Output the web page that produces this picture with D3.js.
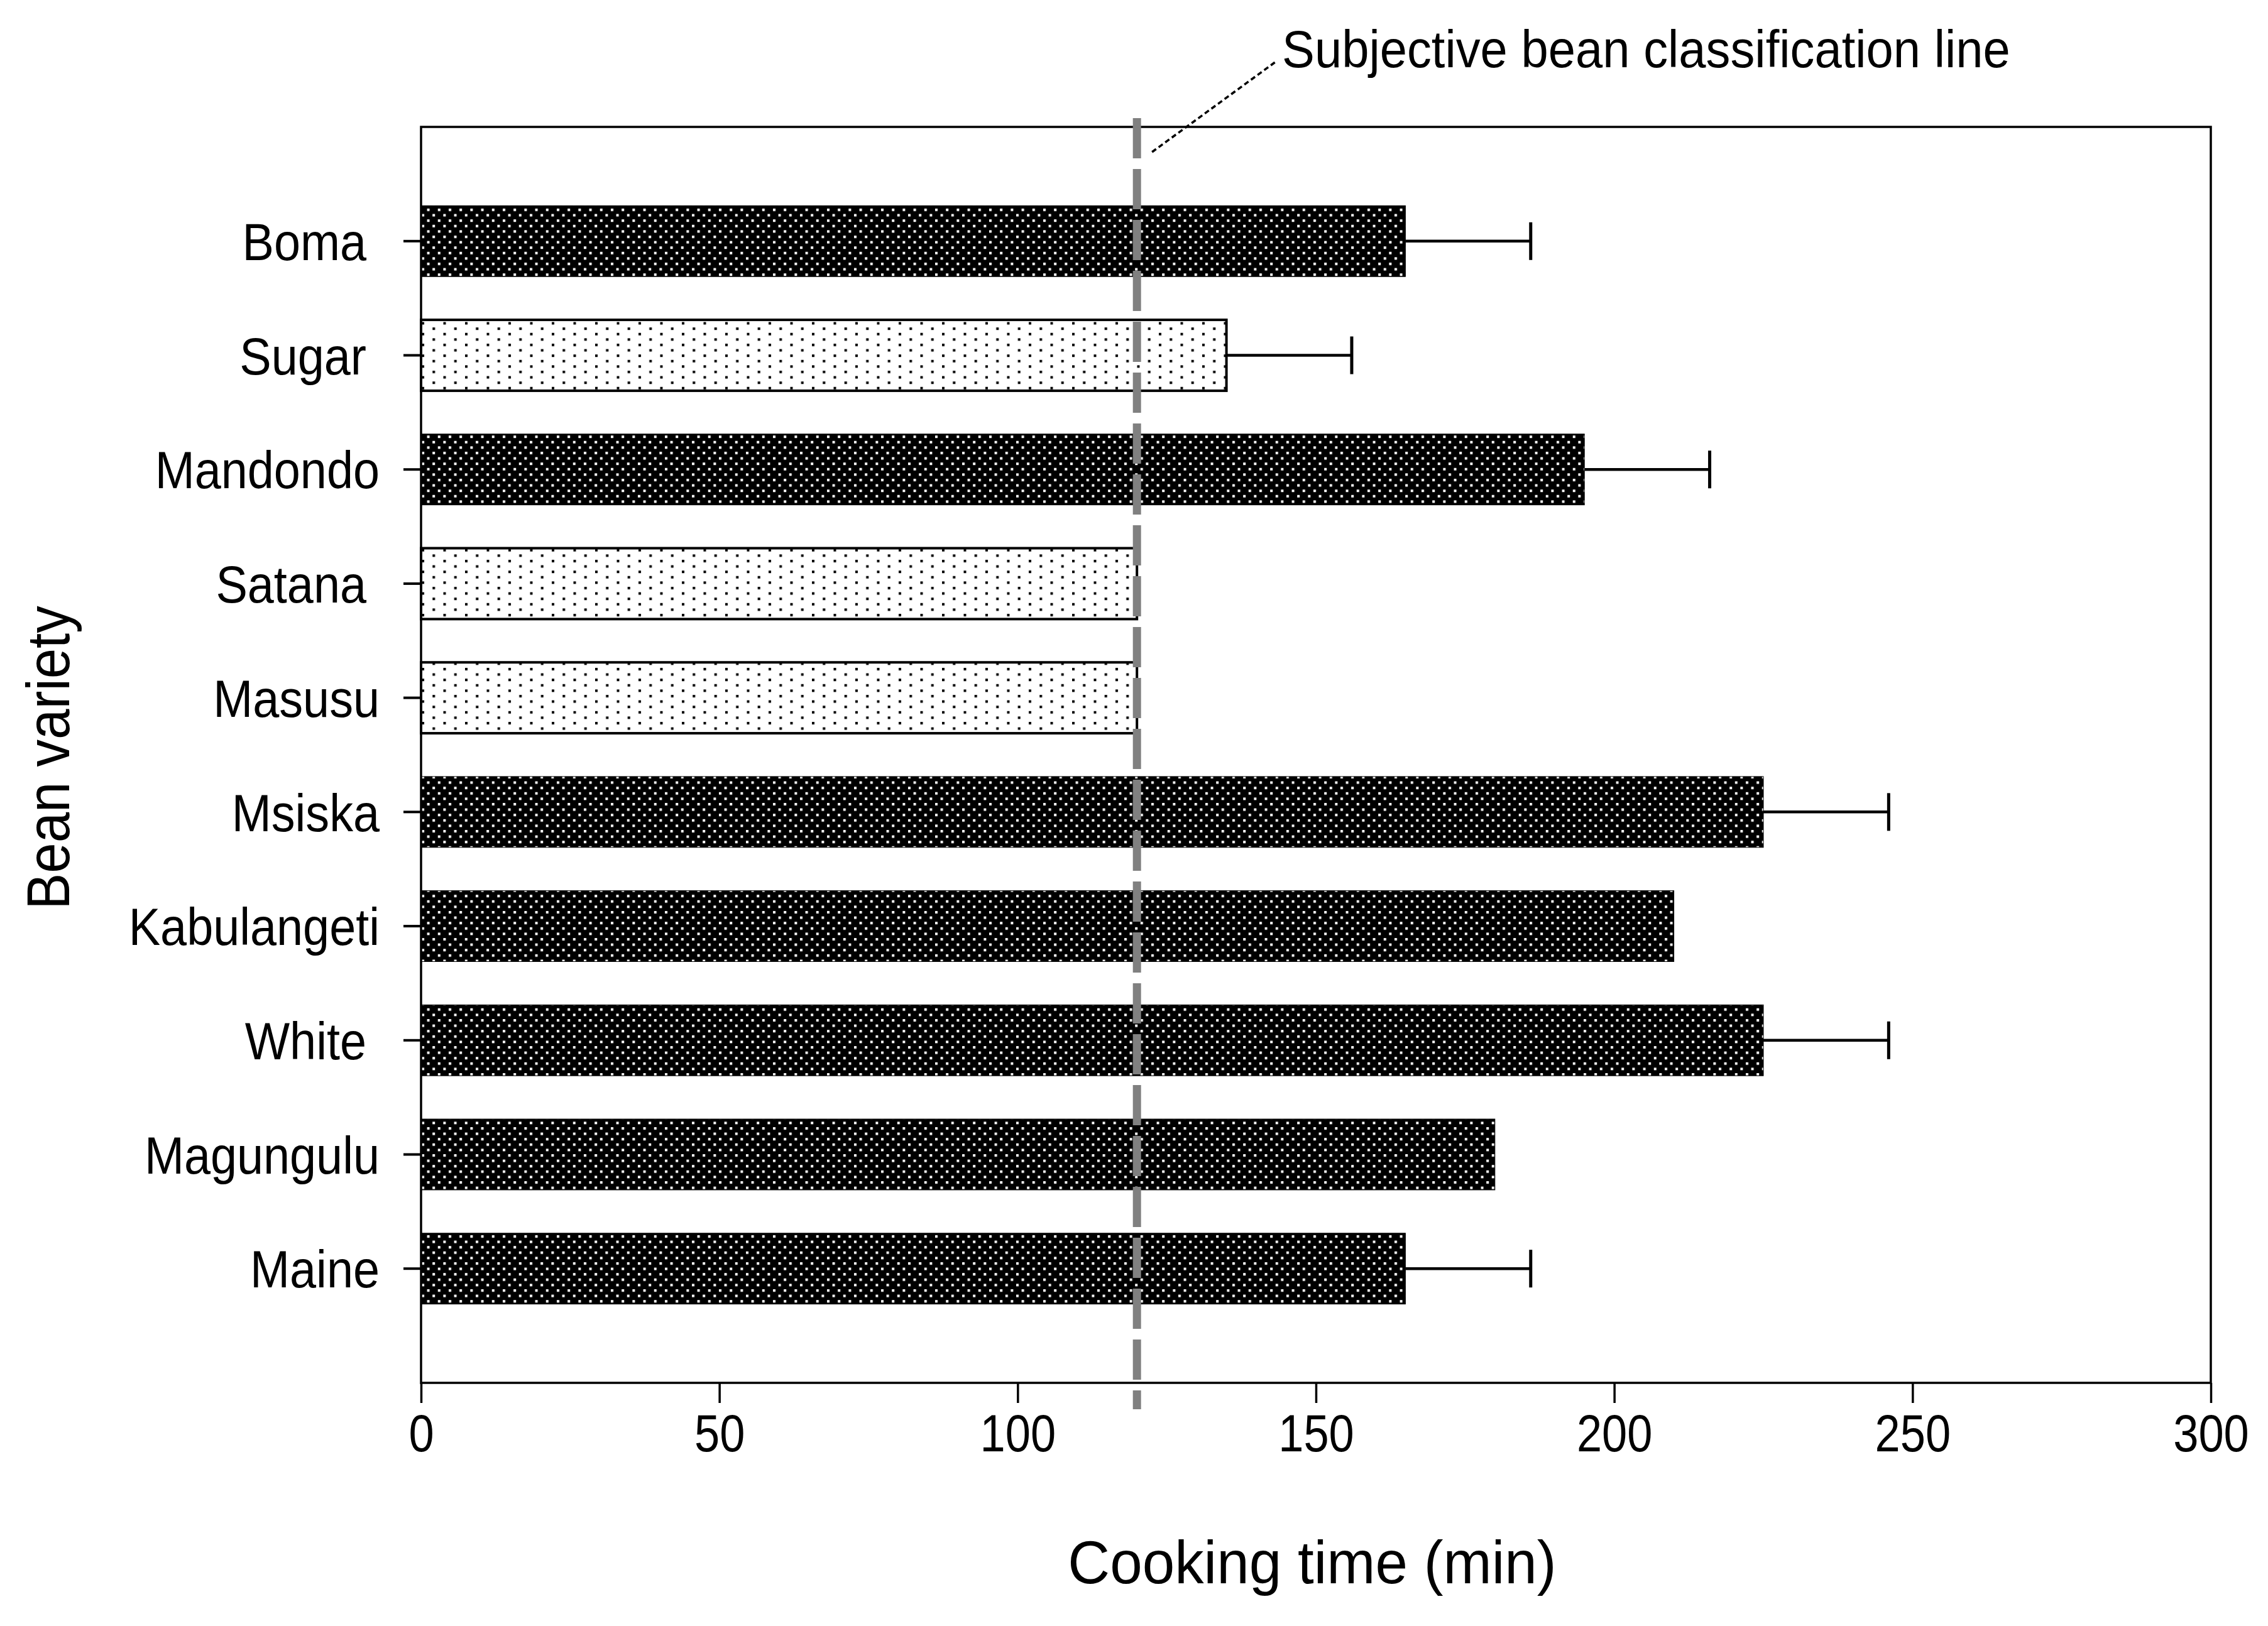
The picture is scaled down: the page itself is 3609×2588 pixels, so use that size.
<!DOCTYPE html>
<html>
<head>
<meta charset="utf-8">
<script src="https://cdn.jsdelivr.net/npm/d3@7"></script>
<style>
  body { margin: 0; background: #fff; }
  text { font-family: "Liberation Sans", Arial, sans-serif; fill: #000; white-space: pre; }
</style>
</head>
<body>
<svg id="chart"></svg>
<script>
// bean varieties, top to bottom (some labels carry a trailing space in the original)
const varieties = ["Boma ", "Sugar ", "Mandondo", "Satana ", "Masusu", "Msiska", "Kabulangeti", "White ", "Magungulu", "Maine"];
// cooking time (min)
const cookingTime = [165, 135, 195, 120, 120, 225, 210, 225, 180, 165];
// error bar (min), null = no bar drawn
const errors = [21, 21, 21, null, null, 21, null, 21, null, 21];
// fill: dark = hard-to-cook, light = easy-to-cook
const beanClass = ["dark", "light", "dark", "light", "light", "dark", "dark", "dark", "dark", "dark"];
const xTicks = [0, 50, 100, 150, 200, 250, 300];
const classificationLine = 120;

// shrink text horizontally so it matches the squashed look of the original
function squeeze(sel, k) {
    sel.each(function () {
        const len = this.getComputedTextLength();
        d3.select(this).attr("textLength", len * k).attr("lengthAdjust", "spacingAndGlyphs");
    });
}

class HBarChart {
    margin = {
        top: 202, right: 91, bottom: 387, left: 670
    }

    constructor(svg, width = 3609, height = 2588) {
        this.svg = svg;
        this.width = width;
        this.height = height;
        this.innerW = width - this.margin.left - this.margin.right;
        this.innerH = height - this.margin.top - this.margin.bottom;
    }

    initialize() {
        this.svg = d3.select(this.svg)
            .attr("width", this.width)
            .attr("height", this.height)
            .style("background", "#fff");

        // fill patterns
        const defs = this.svg.append("defs");
        const dark = defs.append("pattern")
            .attr("id", "dark")
            .attr("patternUnits", "userSpaceOnUse")
            .attr("width", 17.2).attr("height", 17.2);
        dark.append("rect").attr("width", 17.2).attr("height", 17.2).attr("fill", "#000");
        dark.append("rect").attr("x", 1).attr("y", 1).attr("width", 4).attr("height", 4).attr("fill", "#fff");
        dark.append("rect").attr("x", 9.6).attr("y", 9.6).attr("width", 4).attr("height", 4).attr("fill", "#fff");

        const light = defs.append("pattern")
            .attr("id", "light")
            .attr("patternUnits", "userSpaceOnUse")
            .attr("width", 34.5).attr("height", 17.2);
        light.append("rect").attr("width", 34.5).attr("height", 17.2).attr("fill", "#fff");
        light.append("rect").attr("x", 1).attr("y", 1).attr("width", 4).attr("height", 4).attr("fill", "#000");
        light.append("rect").attr("x", 18.25).attr("y", 9.6).attr("width", 4).attr("height", 4).attr("fill", "#000");

        this.container = this.svg.append("g")
            .attr("transform", `translate(${this.margin.left}, ${this.margin.top})`);

        const x = d3.scaleLinear().domain([0, 300]).range([0, this.innerW]);
        const y = d3.scaleBand()
            .domain(varieties)
            .range([0, this.innerH])
            .paddingInner(0.379)
            .paddingOuter(0.69);

        // bars
        const bars = varieties.map((v, i) => ({ name: v, value: cookingTime[i], err: errors[i], cls: beanClass[i] }));
        this.container.selectAll(".bar")
            .data(bars)
            .enter()
            .append("rect")
            .attr("class", "bar")
            .attr("x", x(0))
            .attr("y", d => y(d.name))
            .attr("width", d => x(d.value) - x(0))
            .attr("height", y.bandwidth())
            .attr("fill", d => `url(#${d.cls})`)
            .attr("stroke", "#000")
            .attr("stroke-width", d => d.cls == "light" ? 4 : 1);

        // error bars
        const eb = bars.filter(d => d.err != null);
        this.container.selectAll(".err")
            .data(eb)
            .enter()
            .append("line")
            .attr("x1", d => x(d.value))
            .attr("x2", d => x(d.value + d.err))
            .attr("y1", d => y(d.name) + y.bandwidth() / 2)
            .attr("y2", d => y(d.name) + y.bandwidth() / 2)
            .attr("stroke", "#000")
            .attr("stroke-width", 4.5);
        this.container.selectAll(".cap")
            .data(eb)
            .enter()
            .append("line")
            .attr("x1", d => x(d.value + d.err))
            .attr("x2", d => x(d.value + d.err))
            .attr("y1", d => y(d.name) + y.bandwidth() / 2 - 30)
            .attr("y2", d => y(d.name) + y.bandwidth() / 2 + 30)
            .attr("stroke", "#000")
            .attr("stroke-width", 5);

        // frame
        this.container.append("rect")
            .attr("width", this.innerW)
            .attr("height", this.innerH)
            .attr("fill", "none")
            .attr("stroke", "#000")
            .attr("stroke-width", 3.5);

        // x axis
        const xAxis = this.container.append("g")
            .attr("transform", `translate(0, ${this.innerH})`)
            .call(d3.axisBottom(x).tickValues(xTicks).tickSize(32).tickPadding(14).tickFormat(d3.format("d")));
        xAxis.select(".domain").remove();
        xAxis.selectAll("line").attr("stroke", "#000").attr("stroke-width", 3.5);
        xAxis.selectAll("text")
            .attr("font-size", 84)
            .attr("font-family", null)
            .attr("dy", "0.75em")
            .call(squeeze, 0.86);

        // y axis
        const yAxis = this.container.append("g")
            .call(d3.axisLeft(y).tickSize(28).tickPadding(38));
        yAxis.select(".domain").remove();
        yAxis.selectAll("line").attr("stroke", "#000").attr("stroke-width", 4);
        yAxis.selectAll("text")
            .attr("font-size", 84)
            .attr("font-family", null)
            .attr("dy", "0.36em")
            .call(squeeze, 0.9);

        // subjective classification line
        this.container.append("line")
            .attr("x1", x(classificationLine))
            .attr("x2", x(classificationLine))
            .attr("y1", -14)
            .attr("y2", this.innerH + 42)
            .attr("stroke", "#808080")
            .attr("stroke-width", 13)
            .attr("stroke-dasharray", "64 17");

        // annotation
        this.svg.append("line")
            .attr("x1", this.margin.left + x(classificationLine) + 24)
            .attr("y1", 242)
            .attr("x2", 2029)
            .attr("y2", 99)
            .attr("stroke", "#000")
            .attr("stroke-width", 3.5)
            .attr("stroke-dasharray", "8 5");
        this.svg.append("text")
            .text("Subjective bean classification line")
            .attr("x", 2040)
            .attr("y", 107)
            .attr("font-size", 84)
            .call(squeeze, 0.926);

        // axis titles
        this.svg.append("text")
            .text("Cooking time (min)")
            .attr("x", 2088)
            .attr("y", 2520)
            .attr("text-anchor", "middle")
            .attr("font-size", 96)
            .call(squeeze, 0.965);
        this.svg.append("text")
            .text("Bean variety")
            .attr("transform", `translate(110, 1206) rotate(-90)`)
            .attr("text-anchor", "middle")
            .attr("font-size", 96)
            .call(squeeze, 0.906);
    }
}

const chart = new HBarChart(document.getElementById("chart"));
chart.initialize();
</script>
</body>
</html>
